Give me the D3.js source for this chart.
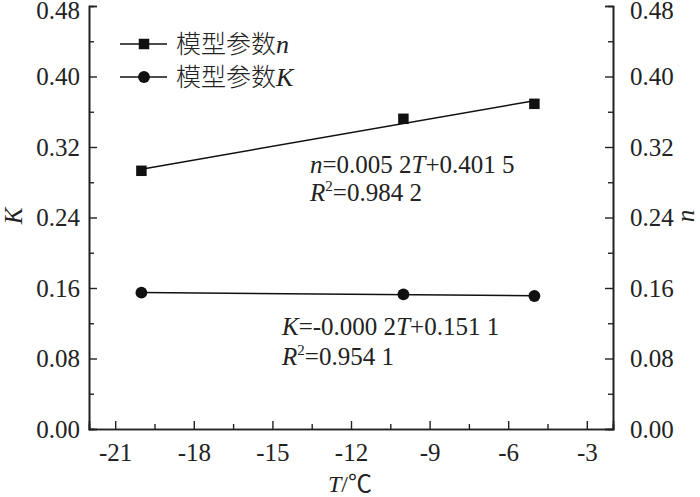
<!DOCTYPE html>
<html>
<head>
<meta charset="utf-8">
<script src="https://cdn.jsdelivr.net/npm/d3@7"></script>
<style>
  body { margin: 0; background: #fff; }
  text { font-family: "Times New Roman", "Liberation Serif", "Noto Sans CJK SC", serif; fill: #222; }
</style>
</head>
<body>
<svg id="chart" width="700" height="497"></svg>
<script>
// temperatures, deg C
const temps = [-20, -10, -5];
// model parameter n (right axis) and K (left axis)
const nVals = [0.293, 0.352, 0.369];
const kVals = [0.1547, 0.1528, 0.1509];
const xTicks = [-21, -18, -15, -12, -9, -6, -3];
const yTicks = [0, 0.08, 0.16, 0.24, 0.32, 0.40, 0.48];
const legendLabels = ["模型参数", "模型参数"];
const legendVars = ["n", "K"];

const svg = d3.select("#chart");
const L = 89, R = 613, T = 6, B = 429;
const serif = "'Times New Roman', 'Liberation Serif', serif";

const x = d3.scaleLinear().domain([-22, -2]).range([L, R]);
const y = d3.scaleLinear().domain([0, 0.48]).range([B, T]);

const ink = "#222";

// least squares fit through the points
function fit(xs, ys){
  const mx = d3.mean(xs), my = d3.mean(ys);
  const sxy = d3.sum(xs, (v, i) => (v - mx) * (ys[i] - my));
  const sxx = d3.sum(xs, v => (v - mx) * (v - mx));
  const b = sxy / sxx;
  return t => my + b * (t - mx);
}

// axes
const minorX = d3.range(-22.5, -1.9, 1.5).filter(v => v > -22 && v < -2 && !xTicks.includes(v));
const minorY = d3.range(0.04, 0.48, 0.08);

const bottom = svg.append("g").attr("transform", "translate(0," + B + ")");
bottom.call(d3.axisBottom(x).tickValues(xTicks).tickSize(-8).tickPadding(14).tickFormat(d => String(d)));
bottom.append("g").call(d3.axisBottom(x).tickValues(minorX).tickSize(-5).tickFormat(""));

const left = svg.append("g").attr("transform", "translate(" + L + ",0)");
left.call(d3.axisLeft(y).tickValues(yTicks).tickSize(-8).tickPadding(9).tickFormat(d3.format(".2f")));
left.append("g").call(d3.axisLeft(y).tickValues(minorY).tickSize(-5).tickFormat(""));

const right = svg.append("g").attr("transform", "translate(" + R + ",0)");
right.call(d3.axisRight(y).tickValues(yTicks).tickSize(-8).tickPadding(17).tickFormat(d3.format(".2f")));
right.append("g").call(d3.axisRight(y).tickValues(minorY).tickSize(-5).tickFormat(""));

svg.selectAll("g").attr("font-family", serif);
svg.selectAll(".domain").attr("stroke", ink).attr("stroke-width", 1.6);
svg.selectAll(".tick line").attr("stroke", ink).attr("stroke-width", 1.4);
svg.selectAll(".tick text").style("font-size", "25px").attr("fill", ink)
  .style("font-family", serif);
// keep the top labels inside the picture
[left, right].forEach(a => a.selectAll(".tick").filter(d => d === 0.48)
  .select("text").attr("y", 4));

// axis titles
svg.append("text").attr("transform", "translate(22,216) rotate(-90)")
  .attr("text-anchor", "middle").style("font-size", "25px").style("font-style", "italic").text("K");
svg.append("text").attr("transform", "translate(694,216) rotate(-90)")
  .attr("text-anchor", "middle").style("font-size", "25px").style("font-style", "italic").text("n");
const xt = svg.append("text").attr("x", 350).attr("y", 492).attr("text-anchor", "middle").style("font-size", "24px");
xt.append("tspan").style("font-style", "italic").text("T");
xt.append("tspan").text("/℃");

// fit lines and markers
const series = [
  { vals: nVals, shape: d3.symbolSquare, size: 110 },
  { vals: kVals, shape: d3.symbolCircle, size: 110 }
];
series.forEach(s => {
  const f = fit(temps, s.vals);
  const t0 = d3.min(temps), t1 = d3.max(temps);
  svg.append("line")
    .attr("x1", x(t0)).attr("y1", y(f(t0)))
    .attr("x2", x(t1)).attr("y2", y(f(t1)))
    .attr("stroke", "#111").attr("stroke-width", 1.5);
  svg.selectAll(null).data(temps).enter().append("path")
    .attr("d", d3.symbol().type(s.shape).size(s.size))
    .attr("transform", (d, i) => "translate(" + x(d) + "," + y(s.vals[i]) + ")")
    .attr("fill", "#111");
});

// legend
series.forEach((s, i) => {
  const ly = 44 + i * 33;
  svg.append("line").attr("x1", 120).attr("x2", 167).attr("y1", ly).attr("y2", ly)
    .attr("stroke", "#111").attr("stroke-width", 1.5);
  svg.append("path").attr("d", d3.symbol().type(s.shape).size(s.size))
    .attr("transform", "translate(144," + ly + ")").attr("fill", "#111");
  const t = svg.append("text").attr("x", 176).attr("y", ly + 9).style("font-size", "25px");
  t.append("tspan").style("font-family", "'Noto Sans CJK SC', sans-serif").style("font-weight", 300).text(legendLabels[i]);
  t.append("tspan").style("font-style", "italic").style("font-size", "26px").text(legendVars[i]);
});

// equation annotations
function eq(xp, yp, v, rest){
  const t = svg.append("text").attr("x", xp).attr("y", yp).style("font-size", "25px");
  t.append("tspan").style("font-style", "italic").text(v);
  rest.forEach(p => t.append("tspan").style("font-style", p.i ? "italic" : "normal").text(p.s));
}
function r2(xp, yp, val){
  const t = svg.append("text").attr("x", xp).attr("y", yp).style("font-size", "25px");
  t.append("tspan").style("font-style", "italic").text("R");
  t.append("tspan").attr("dy", -10).style("font-size", "15px").text("2");
  t.append("tspan").attr("dy", 10).text(val);
}
eq(310, 173, "n", [{s: "=0.005 2"}, {s: "T", i: 1}, {s: "+0.401 5"}]);
r2(310, 201, "=0.984 2");
eq(282, 335, "K", [{s: "=-0.000 2"}, {s: "T", i: 1}, {s: "+0.151 1"}]);
r2(282, 365, "=0.954 1");
</script>
</body>
</html>
